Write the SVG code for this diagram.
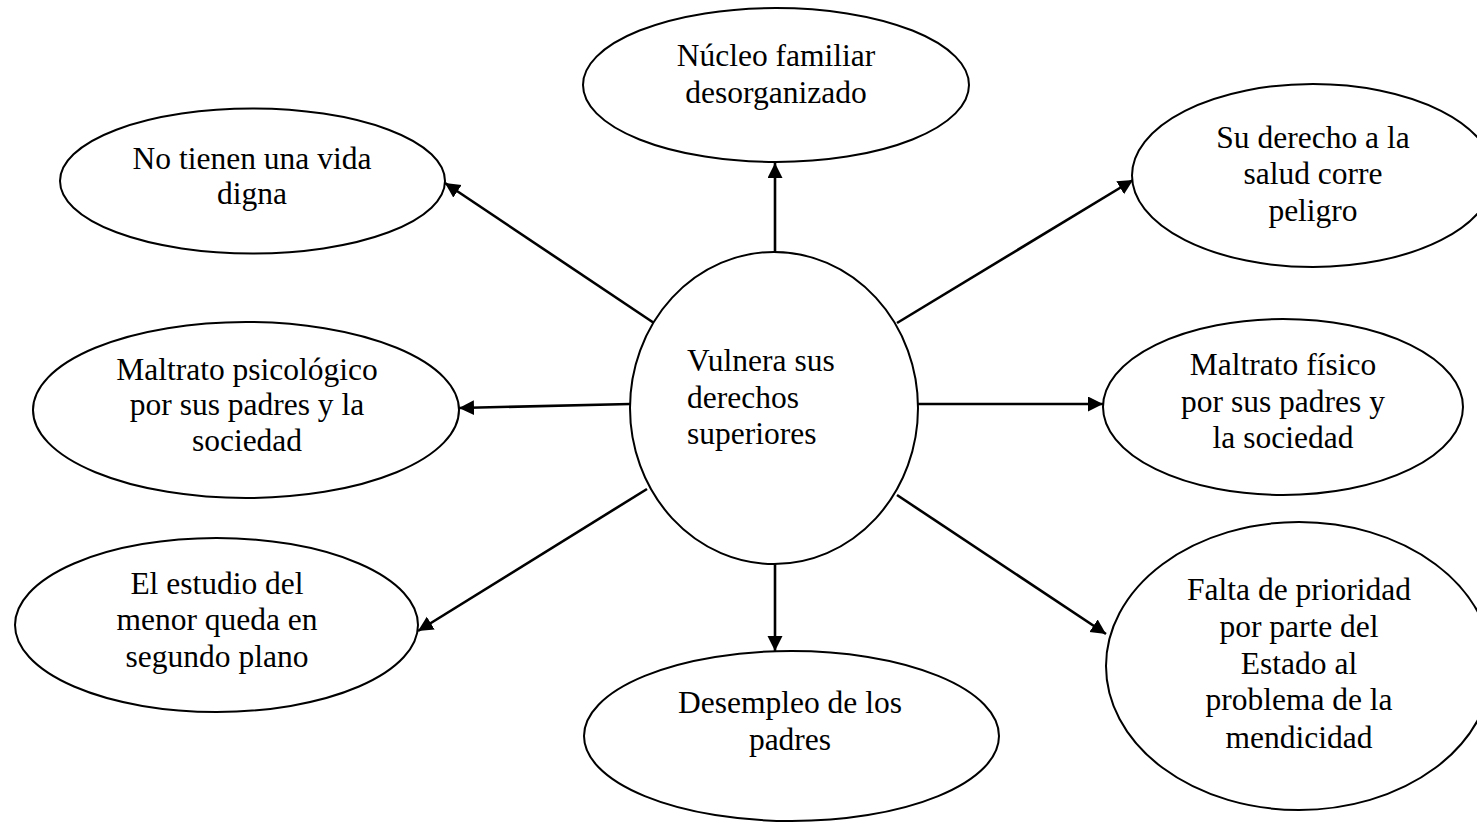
<svg xmlns="http://www.w3.org/2000/svg" width="1477" height="822" viewBox="0 0 1477 822">
<style>
.n{fill:#fff;stroke:#000;stroke-width:2}
.t{font-family:"Liberation Serif","Times New Roman",serif;font-size:31.5px;fill:#000;text-anchor:middle}
.l{text-anchor:start}
.c{stroke:#000;stroke-width:2.6;fill:none;marker-end:url(#ah)}
</style>
<defs>
<marker id="ah" markerUnits="userSpaceOnUse" markerWidth="16" markerHeight="16" refX="15" refY="7.5" orient="auto">
<path d="M0,0 L15,7.5 L0,15 z" fill="#000"/>
</marker>
</defs>
<rect width="1477" height="822" fill="#fff"/>
<g id="connectors">
<line class="c" x1="775" y1="252" x2="775" y2="163"/>
<line class="c" x1="654" y1="323" x2="445" y2="183"/>
<line class="c" x1="897" y1="323" x2="1133" y2="180"/>
<line class="c" x1="630" y1="404" x2="459" y2="408"/>
<line class="c" x1="918" y1="404" x2="1103" y2="404"/>
<line class="c" x1="647" y1="489" x2="418" y2="631"/>
<line class="c" x1="897" y1="495" x2="1106" y2="634"/>
<line class="c" x1="775" y1="564" x2="775" y2="651"/>
</g>
<g id="center">
<ellipse class="n" cx="774" cy="408" rx="144" ry="156"/>
<text class="t l" x="687" y="371">Vulnera sus</text>
<text class="t l" x="687" y="408">derechos</text>
<text class="t l" x="687" y="444">superiores</text>
</g>
<g id="nucleo">
<ellipse class="n" cx="776" cy="85" rx="193" ry="77"/>
<text class="t" x="776" y="66">Núcleo familiar</text>
<text class="t" x="776" y="103">desorganizado</text>
</g>
<g id="vida">
<ellipse class="n" cx="252.5" cy="181" rx="192.5" ry="72.5"/>
<text class="t" x="252" y="169">No tienen una vida</text>
<text class="t" x="252" y="204">digna</text>
</g>
<g id="salud">
<ellipse class="n" cx="1313" cy="175.5" rx="181" ry="91.5"/>
<text class="t" x="1313" y="148">Su derecho a la</text>
<text class="t" x="1313" y="184">salud corre</text>
<text class="t" x="1313" y="221">peligro</text>
</g>
<g id="psicologico">
<ellipse class="n" cx="246" cy="410" rx="213" ry="88"/>
<text class="t" x="247" y="380">Maltrato psicológico</text>
<text class="t" x="247" y="415">por sus padres y la</text>
<text class="t" x="247" y="451">sociedad</text>
</g>
<g id="fisico">
<ellipse class="n" cx="1283" cy="407" rx="180" ry="88"/>
<text class="t" x="1283" y="375">Maltrato físico</text>
<text class="t" x="1283" y="412">por sus padres y</text>
<text class="t" x="1283" y="448">la sociedad</text>
</g>
<g id="estudio">
<ellipse class="n" cx="216.5" cy="625" rx="201.5" ry="87"/>
<text class="t" x="217" y="594">El estudio del</text>
<text class="t" x="217" y="630">menor queda en</text>
<text class="t" x="217" y="667">segundo plano</text>
</g>
<g id="desempleo">
<ellipse class="n" cx="791.5" cy="736" rx="207.5" ry="85"/>
<text class="t" x="790" y="713">Desempleo de los</text>
<text class="t" x="790" y="750">padres</text>
</g>
<g id="estado">
<ellipse class="n" cx="1299" cy="666" rx="193" ry="144"/>
<text class="t" x="1299" y="600">Falta de prioridad</text>
<text class="t" x="1299" y="637">por parte del</text>
<text class="t" x="1299" y="674">Estado al</text>
<text class="t" x="1299" y="710">problema de la</text>
<text class="t" x="1299" y="748">mendicidad</text>
</g>
</svg>
